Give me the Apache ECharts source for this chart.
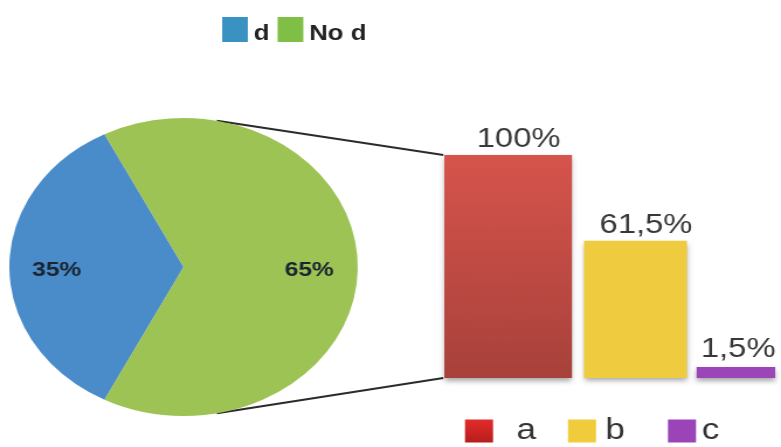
<!DOCTYPE html>
<html>
<head>
<meta charset="utf-8">
<script src="https://cdn.jsdelivr.net/npm/echarts@6.0.0/dist/echarts.min.js"></script>
<style>
  html, body { margin: 0; padding: 0; background: #ffffff; overflow: hidden; }
  #wrap { width: 668px; height: 447px; transform: scaleX(1.16916); transform-origin: 0 0; }
  #chart { width: 668px; height: 447px; }
</style>
</head>
<body>
<div id="wrap"><div id="chart"></div></div>
<script>
// ---- data ----
const pieNames = ['d', 'No d'];
const pieValues = [35, 65];
const barNames = ['a', 'b', 'c'];
const barValues = [100, 61.5, 1.5];
const barCategories = [''];

// ---- styles / layout ----
const FONT = 'Liberation Sans, Arial, Helvetica, sans-serif';
const W = 668, H = 447;
const pieColors = ['#4a8bc9', '#9cc354'];
const pieLegendColors = ['#3a92c2', '#7fbf45'];
const barColors = [
  { type: 'linear', x: 0, y: 0, x2: 0, y2: 1, colorStops: [{ offset: 0, color: '#d6544c' }, { offset: 1, color: '#a8413b' }] },
  '#eecb3f',
  '#9a45b8'
];
const barLegendColors = [
  { type: 'linear', x: 0, y: 0, x2: 0, y2: 1, colorStops: [{ offset: 0, color: '#e22c2c' }, { offset: 1, color: '#b81d1d' }] },
  '#f0cc3c',
  '#9a44b8'
];
const barWidths = [110, 88, 68];
const BAR_GAP = 0.094;
const labelOffsets = [[9, 0], [9, 0], [2, 0]];
const labelDistances = [2, 2, 4];
const barLegendLeft = [397.7, 485.8, 571.3];
const barLegendTextPad = [[0, 0, 0, 15], [0, 0, 0, 3], [0, 0, 0, 0]];
const PIE_C = [157, 267];
const PIE_R = 149;
const GRID = { left: 380, width: 283, top: 155, bottom: 69 };
const Y_MAX = 100;

const fmt = v => String(v).replace('.', ',') + '%';

// connector lines (decoration) from the pie edge to the first bar's corners
const groupW = barWidths.reduce((a, b) => a + b, 0) + (barWidths[0] + barWidths[1]) * BAR_GAP;
const barLeft = GRID.left + GRID.width / 2 - groupW / 2;
const plotH = H - GRID.top - GRID.bottom;
const barTop = GRID.top + (1 - barValues[0] / Y_MAX) * plotH;
const barBottom = H - GRID.bottom;
const ang = 11 * Math.PI / 180;
const topPt = [PIE_C[0] + PIE_R * Math.sin(ang), PIE_C[1] - PIE_R * Math.cos(ang)];
const botPt = [PIE_C[0] + PIE_R * Math.sin(ang), PIE_C[1] + PIE_R * Math.cos(ang)];

const chart = echarts.init(document.getElementById('chart'), null, { renderer: 'canvas' });

const legends = [
  {
    data: pieNames.map((n, i) => ({ name: n, itemStyle: { color: pieLegendColors[i] } })),
    left: 190, top: 14.5, padding: 0,
    icon: 'rect', itemWidth: 22, itemHeight: 25, itemGap: 7,
    selectedMode: false,
    formatter: '{g| }\n{t|{name}}',
    textStyle: {
      fontFamily: FONT, fontSize: 22, fontWeight: 'bold', color: '#222222',
      rich: {
        g: { fontSize: 8, lineHeight: 8 },
        t: { fontFamily: FONT, fontSize: 22, fontWeight: 'bold', color: '#222222', lineHeight: 22 }
      }
    }
  }
].concat(barNames.map((n, i) => ({
  data: [{ name: n, itemStyle: { color: barLegendColors[i] } }],
  left: barLegendLeft[i], top: 416, padding: 0,
  icon: 'rect', itemWidth: 24, itemHeight: 23,
  selectedMode: false,
  textStyle: { fontFamily: FONT, fontSize: 30, color: '#333333', padding: barLegendTextPad[i] }
})));

const option = {
  animation: false,
  backgroundColor: '#ffffff',
  legend: legends,
  grid: GRID,
  xAxis: { type: 'category', data: barCategories, show: false },
  yAxis: { type: 'value', min: 0, max: Y_MAX, show: false, splitLine: { show: false } },
  graphic: [
    { type: 'line', z: 0, silent: true, shape: { x1: topPt[0], y1: topPt[1], x2: barLeft, y2: barTop }, style: { stroke: '#2b2b2b', lineWidth: 2 } },
    { type: 'line', z: 0, silent: true, shape: { x1: botPt[0], y1: botPt[1], x2: barLeft, y2: barBottom }, style: { stroke: '#2b2b2b', lineWidth: 2 } }
  ],
  series: [
    {
      type: 'pie',
      center: PIE_C,
      radius: [0, PIE_R],
      startAngle: 243,
      clockwise: true,
      silent: true,
      data: pieNames.map((n, i) => ({ name: n, value: pieValues[i], itemStyle: { color: pieColors[i] } })),
      label: {
        show: true, position: 'inside',
        formatter: p => p.value + '%',
        fontFamily: FONT, fontSize: 21, fontWeight: 'bold', color: '#1b2430'
      },
      labelLine: { show: false },
      labelLayout: p => ({ dx: p.dataIndex === 0 ? -31 : 30, dy: 3 })
    }
  ].concat(barNames.map((n, i) => ({
    type: 'bar',
    name: n,
    data: [barValues[i]],
    barWidth: barWidths[i],
    barGap: (BAR_GAP * 100) + '%',
    barMinHeight: 11,
    silent: true,
    itemStyle: {
      color: barColors[i],
      shadowColor: 'rgba(0,0,0,0.35)', shadowBlur: 5, shadowOffsetY: 3
    },
    label: {
      show: true, position: 'top',
      distance: labelDistances[i], offset: labelOffsets[i],
      formatter: p => fmt(p.value),
      fontFamily: FONT, fontSize: 28, color: '#383838'
    }
  })))
};

chart.setOption(option);
</script>
</body>
</html>
